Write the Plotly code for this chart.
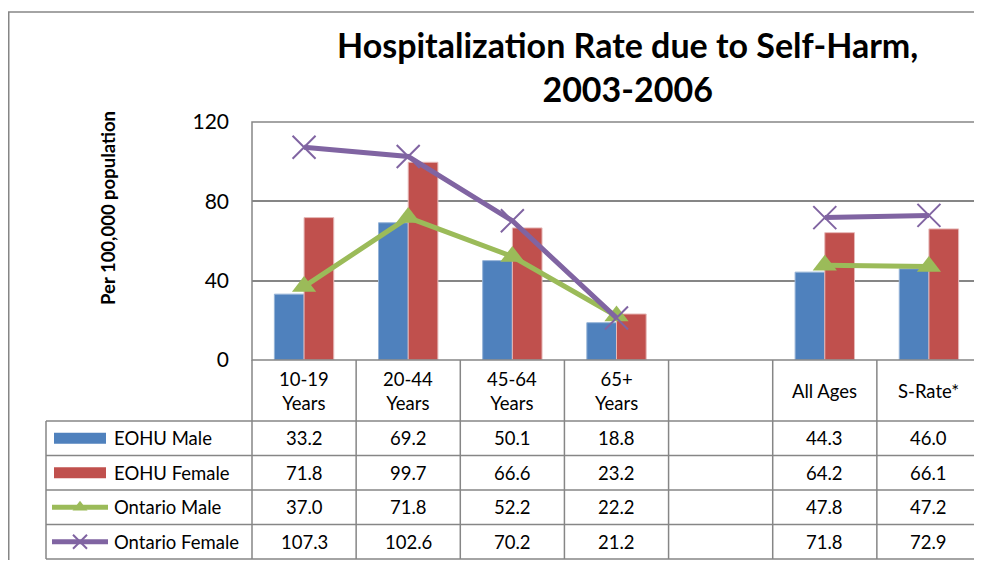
import plotly.graph_objects as go

# data (rates per 100,000 population)
categories = ["10-19<br>Years", "20-44<br>Years", "45-64<br>Years", "65+<br>Years", "", "All Ages", "S-Rate*"]
series_names = ["EOHU Male", "EOHU Female", "Ontario Male", "Ontario Female"]
eohu_male = [33.2, 69.2, 50.1, 18.8, None, 44.3, 46.0]
eohu_female = [71.8, 99.7, 66.6, 23.2, None, 64.2, 66.1]
ontario_male = [37.0, 71.8, 52.2, 22.2, None, 47.8, 47.2]
ontario_female = [107.3, 102.6, 70.2, 21.2, None, 71.8, 72.9]
y_ticks = [0, 40, 80, 120]

# the page has an 8px body margin, so keep the figure inside the window
OX, OY = 8, 8
FW, FH = 966, 552
FONT = "Lato, Carlito, Calibri, sans-serif"
GRID = "#868686"
BLUE, RED, GREEN, PURPLE = "#4F81BD", "#C0504D", "#9BBB59", "#8064A2"

# plot area / table geometry in screen pixels
PL, PR, PT, PB = 252, 981, 122, 360
TABLE_LEFT = 46
ROW_LINES = [421, 455.5, 490, 524.5, 559]

n = len(categories)
xs = list(range(n))
col_w = (PR - PL) / n
right_px = min(PR, OX + FW)
x_hi = -0.5 + (right_px - PL) / col_w

fig = go.Figure()

fig.add_trace(go.Bar(x=xs, y=eohu_male, name=series_names[0], marker_color=BLUE,
                     marker_line=dict(color="#95B3D7", width=1)))
fig.add_trace(go.Bar(x=xs, y=eohu_female, name=series_names[1], marker_color=RED,
                     marker_line=dict(color="#E6B9B8", width=1)))
fig.add_trace(go.Scatter(x=xs, y=ontario_male, name=series_names[2], mode="lines+markers",
                         line=dict(color=GREEN, width=5),
                         marker=dict(symbol="triangle-up", size=21, color=GREEN)))
fig.add_trace(go.Scatter(x=xs, y=ontario_female, name=series_names[3], mode="lines+markers",
                         line=dict(color=PURPLE, width=5),
                         marker=dict(symbol="x-thin", size=23, color=PURPLE,
                                     line=dict(color=PURPLE, width=2))))

# legend symbols inside the table (pixel overlay axes)
row_mid = [(ROW_LINES[i] + ROW_LINES[i + 1]) / 2 for i in range(4)]
fig.add_trace(go.Scatter(x=[80], y=[row_mid[2]], xaxis="x2", yaxis="y2", mode="markers",
                         marker=dict(symbol="triangle-up", size=13, color=GREEN),
                         hoverinfo="skip", showlegend=False))
fig.add_trace(go.Scatter(x=[80], y=[row_mid[3]], xaxis="x2", yaxis="y2", mode="markers",
                         marker=dict(symbol="x-thin", size=14, color=PURPLE,
                                     line=dict(color=PURPLE, width=2)),
                         hoverinfo="skip", showlegend=False))

shapes = []
def px_line(x0, y0, x1, y1, color=GRID, width=1.5):
    shapes.append(dict(type="line", xref="x2", yref="y2", x0=x0, y0=y0, x1=x1, y1=y1,
                       line=dict(color=color, width=width)))

# outer chart border (runs off the bottom and right like the original)
px_line(OX + 0.75, 12, OX + 0.75, OY + FH + 10)
px_line(OX, 12, OX + FW + 10, 12)
# plot area border
shapes.append(dict(type="rect", xref="x2", yref="y2", x0=PL, y0=PT, x1=PR, y1=PB,
                   line=dict(color=GRID, width=1.5), layer="above"))

# table lines
for i in range(n + 1):
    px_line(PL + i * col_w, PB, PL + i * col_w, ROW_LINES[-1])
px_line(TABLE_LEFT, ROW_LINES[0], TABLE_LEFT, ROW_LINES[-1])
for y in ROW_LINES:
    px_line(TABLE_LEFT, y, PR, y)

# legend swatches for bars and lines
for i, c in enumerate([BLUE, RED]):
    shapes.append(dict(type="rect", xref="x2", yref="y2", x0=54, x1=106,
                       y0=row_mid[i] - 5.5, y1=row_mid[i] + 5.5,
                       fillcolor=c, line=dict(width=0)))
px_line(52, row_mid[2], 108, row_mid[2], color=GREEN, width=5)
px_line(52, row_mid[3], 108, row_mid[3], color=PURPLE, width=5)

annotations = []
cell_font = dict(size=18.5, color="black", family=FONT)
# header labels
for i, lab in enumerate(categories):
    annotations.append(dict(x=i, y=(PB + ROW_LINES[0]) / 2, xref="x", yref="y2", text=lab,
                            showarrow=False, font=cell_font))
# table values
for r, vals in enumerate([eohu_male, eohu_female, ontario_male, ontario_female]):
    annotations.append(dict(x=112, y=row_mid[r], xref="x2", yref="y2", text=series_names[r],
                            xanchor="left", showarrow=False, font=cell_font))
    for i, v in enumerate(vals):
        if v is None:
            continue
        annotations.append(dict(x=i, y=row_mid[r], xref="x", yref="y2", text=f"{v:.1f}",
                                showarrow=False, font=cell_font))

# title and y-axis title
annotations.append(dict(x=627, y=66, xref="x2", yref="y2",
                        text="<b>Hospitalization Rate due to Self-Harm,<br>2003-2006</b>",
                        showarrow=False, font=dict(size=34, color="black", family=FONT)))
annotations.append(dict(x=108, y=208, xref="x2", yref="y2", text="<b>Per 100,000 population</b>",
                        textangle=-90, showarrow=False,
                        font=dict(size=18.5, color="black", family=FONT)))

fig.update_layout(
    width=FW, height=FH, autosize=False,
    margin=dict(l=0, r=0, t=0, b=0, pad=0, autoexpand=False),
    paper_bgcolor="white", plot_bgcolor="rgba(0,0,0,0)",
    barmode="group", bargap=0.43, bargroupgap=0,
    showlegend=False,
    font=dict(family=FONT, color="black"),
    xaxis=dict(domain=[(PL - OX) / FW, (right_px - OX) / FW], range=[-0.5, x_hi],
               showticklabels=False, showgrid=False, zeroline=False, fixedrange=True,
               automargin=False),
    yaxis=dict(domain=[1 - (PB - OY) / FH, 1 - (PT - OY) / FH], range=[0, 120], tickvals=y_ticks,
               showgrid=True, gridcolor=GRID, gridwidth=1.5, zeroline=False,
               tickfont=dict(size=21, family=FONT), ticklabelstandoff=22, fixedrange=True,
               automargin=False),
    xaxis2=dict(domain=[0, 1], range=[OX, OX + FW], visible=False, anchor="y2",
                fixedrange=True, automargin=False),
    yaxis2=dict(domain=[0, 1], range=[OY + FH, OY], visible=False, anchor="x2",
                fixedrange=True, automargin=False),
    shapes=shapes, annotations=annotations,
)

fig.write_html("out.html")
